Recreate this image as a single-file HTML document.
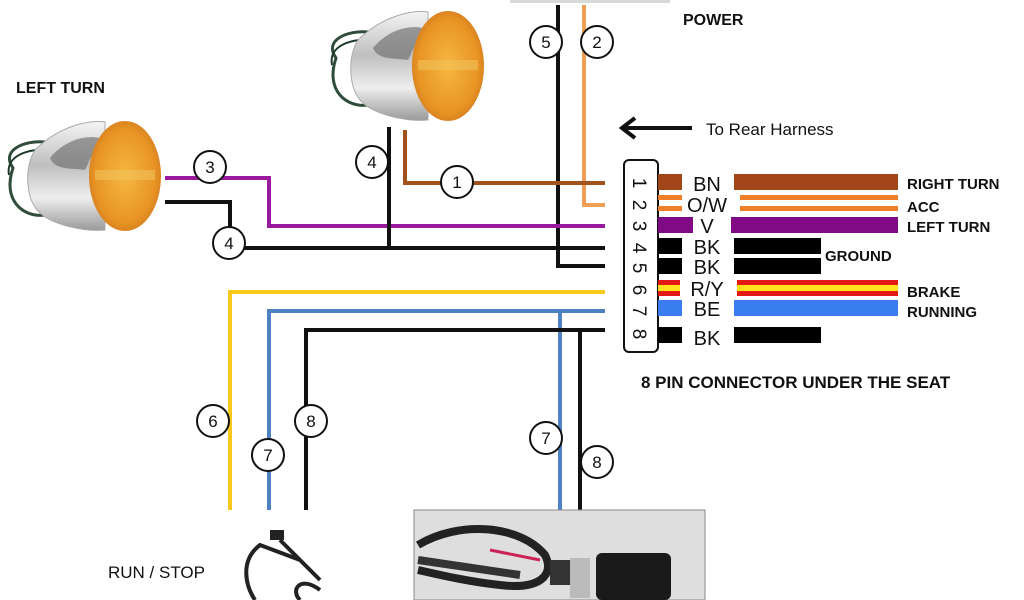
<!DOCTYPE html>
<html><head><meta charset="utf-8"><style>
html,body{margin:0;padding:0;background:#fff;}
svg{display:block;font-family:"Liberation Sans",sans-serif;}
.lbl{font-weight:bold;font-size:16px;fill:#111;}
.c circle{fill:#fff;stroke:#111;stroke-width:2;}
.c text{font-size:17px;text-anchor:middle;fill:#111;}
</style></head><body>
<svg width="1024" height="600" viewBox="0 0 1024 600">
<defs>
<linearGradient id="chrome" x1="0" y1="0" x2="0" y2="1">
<stop offset="0" stop-color="#f4f4f4"/><stop offset="0.4" stop-color="#bfbfbf"/><stop offset="0.7" stop-color="#eee"/><stop offset="1" stop-color="#9a9a9a"/></linearGradient>
<radialGradient id="amber" cx="0.5" cy="0.5" r="0.6"><stop offset="0" stop-color="#f5b840"/><stop offset="0.7" stop-color="#e89424"/><stop offset="1" stop-color="#c9701a"/></radialGradient>
<g id="lamp">
<path d="M8 48 C-5 30 20 20 40 22 L40 95 C18 98 -3 80 8 48Z" fill="none" stroke="#2f4d3a" stroke-width="3"/>
<path d="M4 55 C0 35 25 28 45 30" fill="none" stroke="#1f3a2a" stroke-width="2"/>
<path d="M30 30 C55 5 85 0 100 2 L100 110 C80 112 45 105 32 90 C20 75 20 45 30 30Z" fill="url(#chrome)" stroke="#aaa"/>
<path d="M45 38 C60 20 80 15 95 18 L80 50 C65 48 50 50 45 38Z" fill="#666" opacity="0.6"/>
<ellipse cx="120" cy="56" rx="36" ry="55" fill="url(#amber)"/>
<rect x="90" y="50" width="60" height="10" fill="#f2c25a" opacity="0.6"/>
</g>
</defs>
<rect x="510" y="0" width="160" height="3" fill="#d8d8d8"/>
<use href="#lamp" x="5" y="120"/>
<use href="#lamp" x="328" y="10"/>
<text class="lbl" x="16" y="93">LEFT TURN</text>
<text class="lbl" x="683" y="25">POWER</text>
<text x="706" y="135" font-size="17" fill="#111">To Rear Harness</text>
<line x1="692" y1="128" x2="625" y2="128" stroke="#111" stroke-width="4"/>
<path d="M635 118 L622 128 L635 138" fill="none" stroke="#111" stroke-width="4"/>
<g fill="none" stroke-width="4">
<polyline points="558,5 558,266 605,266" stroke="#111"/>
<polyline points="584,5 584,205 605,205" stroke="#f0a055"/>
<polyline points="405,130 405,183 605,183" stroke="#a2521c"/>
<polyline points="165,178 269,178 269,226 605,226" stroke="#9a1a9e"/>
<polyline points="165,202 230,202 230,248 605,248" stroke="#111"/>
<line x1="389" y1="127" x2="389" y2="248" stroke="#111"/>
<polyline points="605,292 230,292 230,510" stroke="#f8c81a"/>
<polyline points="605,311 269,311 269,510" stroke="#4f82c0"/>
<line x1="560" y1="311" x2="560" y2="510" stroke="#4f82c0"/>
<polyline points="605,330 306,330 306,510" stroke="#111"/>
<line x1="580" y1="330" x2="580" y2="510" stroke="#111"/>
</g>
<g class="c">
<circle cx="546" cy="42" r="16"/><text x="546" y="48">5</text>
<circle cx="597" cy="42" r="16"/><text x="597" y="48">2</text>
<circle cx="210" cy="167" r="16"/><text x="210" y="173">3</text>
<circle cx="229" cy="243" r="16"/><text x="229" y="249">4</text>
<circle cx="372" cy="162" r="16"/><text x="372" y="168">4</text>
<circle cx="457" cy="182" r="16"/><text x="457" y="188">1</text>
<circle cx="213" cy="421" r="16"/><text x="213" y="427">6</text>
<circle cx="268" cy="455" r="16"/><text x="268" y="461">7</text>
<circle cx="311" cy="421" r="16"/><text x="311" y="427">8</text>
<circle cx="546" cy="438" r="16"/><text x="546" y="444">7</text>
<circle cx="597" cy="462" r="16"/><text x="597" y="468">8</text>
</g>
<rect x="624" y="160" width="34" height="192" rx="5" fill="#fff" stroke="#111" stroke-width="2"/>
<g font-size="19" fill="#111">
<text transform="translate(633,183) rotate(90)" text-anchor="middle">1</text>
<text transform="translate(633,205) rotate(90)" text-anchor="middle">2</text>
<text transform="translate(633,226) rotate(90)" text-anchor="middle">3</text>
<text transform="translate(633,248) rotate(90)" text-anchor="middle">4</text>
<text transform="translate(633,268) rotate(90)" text-anchor="middle">5</text>
<text transform="translate(633,290) rotate(90)" text-anchor="middle">6</text>
<text transform="translate(633,311) rotate(90)" text-anchor="middle">7</text>
<text transform="translate(633,334) rotate(90)" text-anchor="middle">8</text>
</g>
<rect x="658" y="174" width="24" height="16" fill="#a2461a"/>
<rect x="734" y="174" width="164" height="16" fill="#a2461a"/>
<rect x="658" y="195" width="24" height="5" fill="#f07f2a"/><rect x="658" y="206" width="24" height="5" fill="#f07f2a"/>
<rect x="740" y="195" width="158" height="5" fill="#f07f2a"/><rect x="740" y="206" width="158" height="5" fill="#f07f2a"/>
<rect x="658" y="217" width="35" height="16" fill="#800a85"/>
<rect x="731" y="217" width="167" height="16" fill="#800a85"/>
<rect x="658" y="238" width="24" height="16" fill="#000"/><rect x="734" y="238" width="87" height="16" fill="#000"/>
<rect x="658" y="258" width="24" height="16" fill="#000"/><rect x="734" y="258" width="87" height="16" fill="#000"/>
<rect x="658" y="280" width="22" height="16" fill="#e31a12"/><rect x="658" y="285" width="22" height="6" fill="#ffe31a"/>
<rect x="737" y="280" width="161" height="16" fill="#e31a12"/><rect x="737" y="285" width="161" height="6" fill="#ffe31a"/>
<rect x="658" y="300" width="24" height="16" fill="#3a7df0"/><rect x="734" y="300" width="164" height="16" fill="#3a7df0"/>
<rect x="658" y="327" width="24" height="16" fill="#000"/><rect x="734" y="327" width="87" height="16" fill="#000"/>
<g font-size="20" fill="#111" text-anchor="middle">
<text x="707" y="191">BN</text><text x="707" y="212">O/W</text><text x="707" y="233">V</text>
<text x="707" y="254">BK</text><text x="707" y="274">BK</text><text x="707" y="296">R/Y</text>
<text x="707" y="316">BE</text><text x="707" y="345">BK</text>
</g>
<g class="lbl" style="font-size:15px">
<text x="907" y="189">RIGHT TURN</text><text x="907" y="212">ACC</text><text x="907" y="232">LEFT TURN</text>
<text x="825" y="261">GROUND</text><text x="907" y="297">BRAKE</text><text x="907" y="317">RUNNING</text>
</g>
<text class="lbl" x="641" y="388" style="font-size:17px">8 PIN CONNECTOR UNDER THE SEAT</text>
<text x="108" y="578" font-size="17" fill="#111">RUN / STOP</text>
<g fill="none" stroke="#222" stroke-width="4">
<path d="M255 600 C245 585 240 560 260 545 L300 560"/>
<path d="M280 540 L320 580"/>
<path d="M300 600 C290 590 300 575 320 590"/>
</g>
<rect x="270" y="530" width="14" height="10" fill="#222"/>
<rect x="414" y="510" width="291" height="90" fill="#dedede" stroke="#888"/>
<path d="M418 545 C460 520 520 525 545 555 C555 575 540 590 500 585 C470 582 440 575 418 570" fill="none" stroke="#222" stroke-width="8"/>
<path d="M418 560 L520 575" stroke="#333" stroke-width="8"/>
<path d="M490 550 L540 560" stroke="#c25" stroke-width="3"/>
<rect x="550" y="560" width="20" height="25" fill="#333"/>
<rect x="570" y="558" width="20" height="40" fill="#bbb"/>
<rect x="596" y="553" width="75" height="47" rx="6" fill="#1a1a1a"/>
</svg>
</body></html>
